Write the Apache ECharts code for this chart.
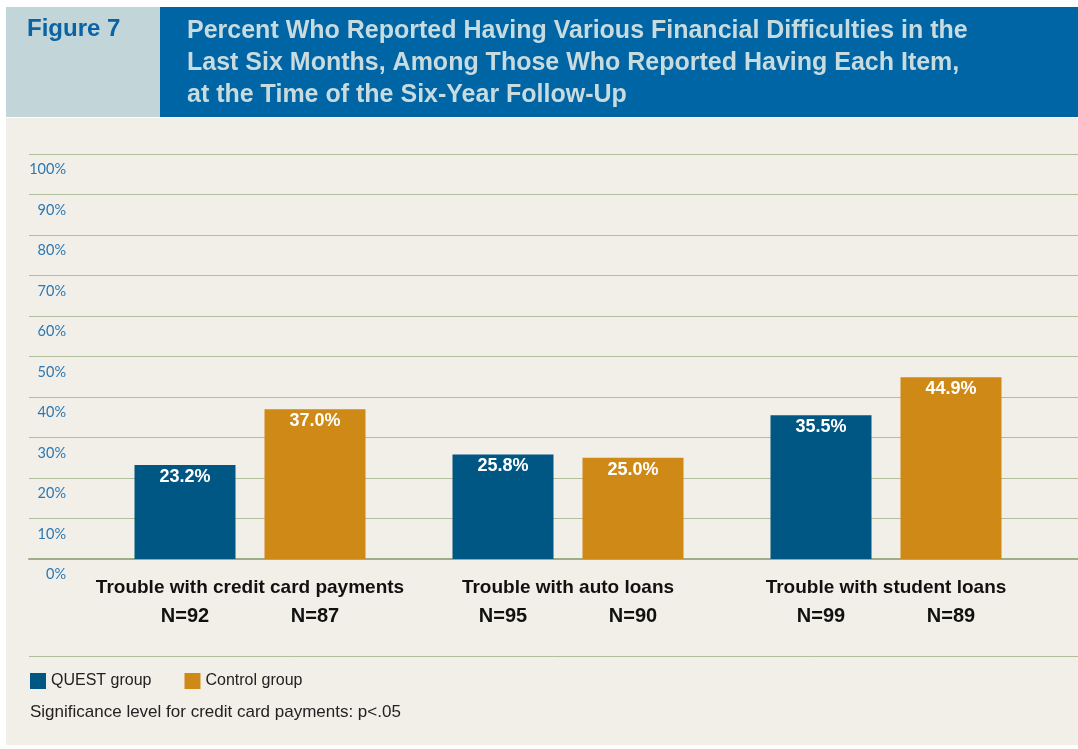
<!DOCTYPE html>
<html>
<head>
<meta charset="utf-8">
<script src="https://cdn.jsdelivr.net/npm/echarts@6/dist/echarts.min.js"></script>
<style>
html,body{margin:0;padding:0;background:#ffffff;}
#chart{width:1078px;height:749px;}
</style>
</head>
<body>
<div id="chart"></div>
<script>
var categories = ['Trouble with credit card payments', 'Trouble with auto loans', 'Trouble with student loans'];
var questValues = [23.2, 25.8, 35.5];
var controlValues = [37.0, 25.0, 44.9];
var questN = [92, 95, 99];
var controlN = [87, 90, 89];
var yTicks = [0, 10, 20, 30, 40, 50, 60, 70, 80, 90, 100];
var seriesNames = ['QUEST group', 'Control group'];
var figureLabel = 'Figure 7';
var titleLines = [
  'Percent Who Reported Having Various Financial Difficulties in the',
  'Last Six Months, Among Those Who Reported Having Each Item,',
  'at the Time of the Six-Year Follow-Up'
];
var footnote = 'Significance level for credit card payments: p<.05';

var QUEST_COLOR = '#015783';
var CONTROL_COLOR = '#cf8916';

var chart = echarts.init(document.getElementById('chart'), null, {renderer: 'canvas'});

var catLabel = function (value, idx) {
  return '{t|' + value + '}\n{n|N=' + questN[idx] + '}{g|}{n|N=' + controlN[idx] + '}';
};

var catFont = '"Liberation Sans", Arial, sans-serif';

var option = {
  backgroundColor: '#ffffff',
  animation: false,
  graphic: [
    {type: 'rect', shape: {x: 6, y: 118, width: 1072, height: 627}, style: {fill: '#f2efe8'}, z: -10},
    {type: 'rect', shape: {x: 6, y: 7, width: 154, height: 110}, style: {fill: '#c2d6da'}, z: -10},
    {type: 'rect', shape: {x: 160, y: 7, width: 918, height: 110}, style: {fill: '#0065a4'}, z: -10},
    {type: 'line', shape: {x1: 29, y1: 656.5, x2: 1078, y2: 656.5}, style: {stroke: '#aebd9a', lineWidth: 1}},
    {type: 'text', left: 30, top: 704, style: {text: footnote, fill: '#222222', font: '17px "Liberation Sans", Arial, sans-serif'}}
  ],
  title: [
    {text: figureLabel, left: 27, top: 17, padding: 0, textStyle: {color: '#0a63a2', fontSize: 24, fontWeight: 'bold', fontFamily: '"Liberation Sans", Arial, sans-serif'}},
    {text: titleLines.join('\n'), left: 187, top: 15, padding: 0, textStyle: {color: '#c8dce0', fontSize: 25, fontWeight: 'bold', lineHeight: 32, fontFamily: '"Liberation Sans", Arial, sans-serif'}}
  ],
  legend: {
    left: 30, top: 673, padding: 0,
    itemWidth: 16, itemHeight: 16, icon: 'rect', itemGap: 33,
    data: seriesNames,
    textStyle: {color: '#222222', fontSize: 16, fontFamily: '"Liberation Sans", Arial, sans-serif'}
  },
  grid: [
    {left: 29, right: 0, top: 154, bottom: 190},
    {left: 91, right: 33, top: 154, bottom: 190}
  ],
  xAxis: [
    {type: 'value', gridIndex: 0, min: 0, max: 1, axisLabel: {show: false}, axisTick: {show: false}, splitLine: {show: false},
     axisLine: {show: true, lineStyle: {color: '#9cae88', width: 2}}},
    {type: 'category', gridIndex: 1, data: categories,
     axisLine: {show: false}, axisTick: {show: false},
     axisLabel: {
       margin: 15, formatter: catLabel, interval: 0,
       rich: {
         t: {fontSize: 19, fontWeight: 'bold', color: '#111111', lineHeight: 28, align: 'center', fontFamily: catFont},
         n: {fontSize: 20, fontWeight: 'bold', color: '#111111', lineHeight: 28, width: 101, align: 'center', fontFamily: catFont},
         g: {width: 29, align: 'center'}
       }
     }}
  ],
  yAxis: [
    {type: 'value', gridIndex: 0, min: 0, max: 100, interval: 10,
     axisLine: {show: false}, axisTick: {show: false},
     splitLine: {show: true, lineStyle: {color: '#b2bf9e', width: 1.2}},
     axisLabel: {inside: true, margin: 37, align: 'right', verticalAlign: 'top', padding: [8, 0, 0, 0],
       formatter: function (v) { return yTicks.indexOf(v) >= 0 ? v + '%' : ''; },
       color: '#2b78b3', fontSize: 14.5, fontFamily: 'Lato, "Noto Sans", sans-serif'}},
    {type: 'value', gridIndex: 1, min: 0, max: 100, interval: 10, show: false}
  ],
  series: [
    {name: seriesNames[0], type: 'bar', xAxisIndex: 1, yAxisIndex: 1, data: questValues,
     barWidth: 101, barGap: '28.7%', itemStyle: {color: QUEST_COLOR},
     label: {show: true, position: 'insideTop', distance: 3, color: '#ffffff', fontSize: 18, fontWeight: 'bold',
       fontFamily: '"Liberation Sans", Arial, sans-serif', formatter: function (p) { return p.value.toFixed(1) + '%'; }}},
    {name: seriesNames[1], type: 'bar', xAxisIndex: 1, yAxisIndex: 1, data: controlValues,
     barWidth: 101, barGap: '28.7%', itemStyle: {color: CONTROL_COLOR},
     label: {show: true, position: 'insideTop', distance: 3, color: '#ffffff', fontSize: 18, fontWeight: 'bold',
       fontFamily: '"Liberation Sans", Arial, sans-serif', formatter: function (p) { return p.value.toFixed(1) + '%'; }}}
  ]
};
chart.setOption(option);
</script>
</body>
</html>
